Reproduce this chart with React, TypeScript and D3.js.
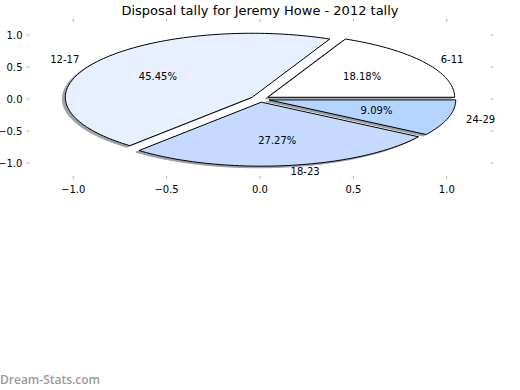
import React, { useEffect, useRef } from "react";
import * as d3 from "d3";

const labels = ["6-11", "12-17", "18-23", "24-29"];
const values = [2, 5, 3, 1];
const colors = ["#ffffff", "#e8f0ff", "#c6d9ff", "#b4d5ff"];
const explode = [0.05, 0.05, 0.05, 0.05];
const xTicks = [-1, -0.5, 0, 0.5, 1];
const yTicks = [-1, -0.5, 0, 0.5, 1];
const title = "Disposal tally for Jeremy Howe - 2012 tally";

const W = 520;
const H = 390;
const FONT = "'DejaVu Sans', sans-serif";

const App: React.FC = () => {
  const svgRef = useRef<SVGSVGElement | null>(null);

  useEffect(() => {
    if (!svgRef.current) return;
    const svg = d3.select(svgRef.current);
    svg.selectAll("*").remove();

    const box = { left: 26.5, right: 493.5, top: 19, bottom: 179 };
    const x = d3.scaleLinear().domain([-1.25, 1.25]).range([box.left, box.right]);
    const y = d3.scaleLinear().domain([-1.25, 1.25]).range([box.bottom, box.top]);

    const total = d3.sum(values);
    const fmt = (t: number) => t.toFixed(1).replace("-", "\u2212");

    // wedges in math angles (counter-clockwise from +x, start at 0)
    let start = 0;
    const wedges = values.map((v, i) => {
      const a0 = start;
      const a1 = start + (v / total) * 2 * Math.PI;
      start = a1;
      const mid = (a0 + a1) / 2;
      const cx = explode[i] * Math.cos(mid);
      const cy = explode[i] * Math.sin(mid);
      return { i, a0, a1, mid, cx, cy, v };
    });

    const line = d3
      .line<[number, number]>()
      .x(d => x(d[0]))
      .y(d => y(d[1]));

    const wedgePath = (w: typeof wedges[number]) => {
      const n = Math.max(8, Math.ceil(((w.a1 - w.a0) / (2 * Math.PI)) * 240));
      const pts: [number, number][] = [[w.cx, w.cy]];
      for (let k = 0; k <= n; k++) {
        const t = w.a0 + ((w.a1 - w.a0) * k) / n;
        pts.push([w.cx + Math.cos(t), w.cy + Math.sin(t)]);
      }
      pts.push([w.cx, w.cy]);
      return line(pts) + "Z";
    };

    // shadows first
    const gShadow = svg.append("g").attr("transform", "translate(-3,1.6)");
    wedges.forEach(w => {
      const c = d3.rgb(colors[w.i]);
      const sc = `rgb(${Math.round(c.r * 0.3)},${Math.round(c.g * 0.3)},${Math.round(c.b * 0.3)})`;
      gShadow
        .append("path")
        .attr("d", wedgePath(w))
        .attr("fill", sc)
        .attr("stroke", sc)
        .attr("stroke-width", 1)
        .attr("opacity", 0.5);
    });

    wedges.forEach(w => {
      svg
        .append("path")
        .attr("d", wedgePath(w))
        .attr("fill", colors[w.i])
        .attr("stroke", "#000")
        .attr("stroke-width", 1)
        .attr("stroke-linejoin", "miter");
    });

    // labels
    wedges.forEach(w => {
      const lx = w.cx + 1.1 * Math.cos(w.mid);
      const ly = w.cy + 1.1 * Math.sin(w.mid);
      svg
        .append("text")
        .attr("x", x(lx))
        .attr("y", y(ly))
        .attr("dy", "0.35em")
        .attr("text-anchor", lx > 0 ? "start" : "end")
        .style("font-family", FONT)
        .style("font-size", "10px")
        .style("fill", "#000")
        .text(labels[w.i]);

      const px = w.cx + 0.6 * Math.cos(w.mid);
      const py = w.cy + 0.6 * Math.sin(w.mid);
      svg
        .append("text")
        .attr("x", x(px))
        .attr("y", y(py))
        .attr("dy", "0.35em")
        .attr("text-anchor", "middle")
        .style("font-family", FONT)
        .style("font-size", "10px")
        .style("fill", "#000")
        .text(((w.v / total) * 100).toFixed(2) + "%");
    });

    // ticks (inward, light gray) on all sides
    const tickColor = "#b0b0b0";
    const tl = 3;
    xTicks.forEach(t => {
      svg.append("line").attr("x1", x(t)).attr("x2", x(t)).attr("y1", box.bottom).attr("y2", box.bottom - tl)
        .attr("stroke", tickColor).attr("stroke-width", 1);
      svg.append("line").attr("x1", x(t)).attr("x2", x(t)).attr("y1", box.top).attr("y2", box.top + tl)
        .attr("stroke", tickColor).attr("stroke-width", 1);
      svg.append("text")
        .attr("x", x(t))
        .attr("y", box.bottom + 7)
        .attr("dy", "0.71em")
        .attr("text-anchor", "middle")
        .style("font-family", FONT)
        .style("font-size", "10px")
        .style("fill", "#000")
        .text(fmt(t));
    });
    yTicks.forEach(t => {
      svg.append("line").attr("x1", box.left).attr("x2", box.left + tl).attr("y1", y(t)).attr("y2", y(t))
        .attr("stroke", tickColor).attr("stroke-width", 1);
      svg.append("line").attr("x1", box.right).attr("x2", box.right - tl).attr("y1", y(t)).attr("y2", y(t))
        .attr("stroke", tickColor).attr("stroke-width", 1);
      svg.append("text")
        .attr("x", box.left - 4)
        .attr("y", y(t))
        .attr("dy", "0.35em")
        .attr("text-anchor", "end")
        .style("font-family", FONT)
        .style("font-size", "10px")
        .style("fill", "#000")
        .text(fmt(t));
    });

    svg.append("text")
      .attr("x", 260)
      .attr("y", 10)
      .attr("dy", "0.35em")
      .attr("text-anchor", "middle")
      .style("font-family", FONT)
      .style("font-size", "13px")
      .style("fill", "#000")
      .text(title);

    svg.append("text")
      .attr("x", 0)
      .attr("y", 384)
      .style("font-family", "'Open Sans', 'DejaVu Sans', sans-serif")
      .style("font-size", "12px")
      .style("font-weight", "600")
      .style("fill", "#9a9a9a")
      .text("Dream-Stats.com");
  }, []);

  return (
    <svg
      ref={svgRef}
      width={W}
      height={H}
      style={{ position: "absolute", left: 0, top: 0, background: "#fff", display: "block" }}
    />
  );
};

export default App;
